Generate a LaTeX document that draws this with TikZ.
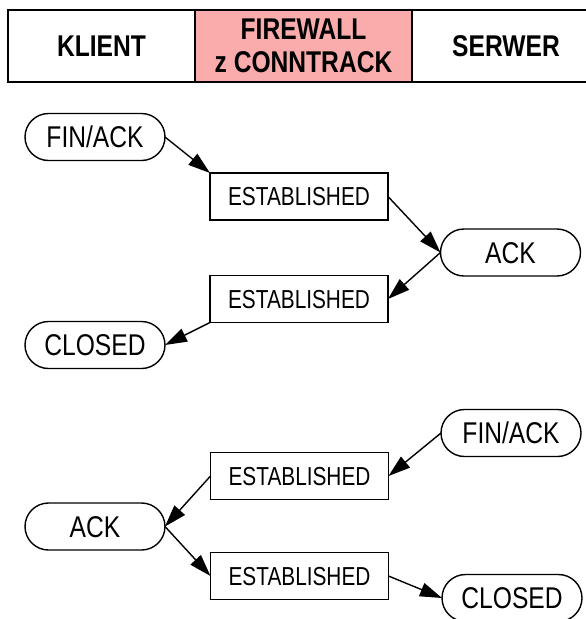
\documentclass[tikz,border=0pt]{standalone}
\usepackage{fontspec}
\setmainfont{Liberation Sans}[FakeStretch=0.82]
\newfontfamily\boxfont{Liberation Sans}[FakeStretch=0.80]
\usetikzlibrary{arrows.meta,shapes.misc}
\definecolor{fwpink}{RGB}{250,172,172}

\begin{document}
\begin{tikzpicture}[x=1pt,y=-1pt,
  every node/.style={inner sep=0pt, outer sep=0pt},
  pill/.style={rounded rectangle, draw, line width=1.4pt, minimum width=140pt,
    minimum height=47pt, font=\fontsize{30}{32}\selectfont, text height=21pt, text depth=0pt},
  stbox/.style={rectangle, draw, line width=1.4pt, minimum width=178pt,
    minimum height=47pt, font=\boxfont\fontsize{26}{28}\selectfont, text height=18.5pt, text depth=0pt},
  hcell/.style={rectangle, draw, line width=1.4pt, minimum height=72pt,
    font=\bfseries\fontsize{30}{33}\selectfont, align=center},
  flow/.style={-{Triangle[length=22pt,width=14pt]}, line width=1.4pt},
]
\useasboundingbox (0,0) rectangle (586,619);

% header: the three parties
\node[hcell, minimum width=187pt] (klient) at (101.5,46) {KLIENT};
\node[hcell, minimum width=217pt, fill=fwpink] (fw) at (303.5,46) {FIREWALL\\z CONNTRACK};
\node[hcell, minimum width=188pt] (serwer) at (506,46) {SERWER};

% first closing sequence (client starts)
\node[pill]  (f1) at (95,137)    {FIN/ACK};
\node[stbox] (e1) at (299,196.5) {ESTABLISHED};
\node[pill]  (a1) at (510.5,252.5) {ACK};
\node[stbox] (e2) at (299,299)   {ESTABLISHED};
\node[pill]  (c1) at (95,345)    {CLOSED};

% second closing sequence (server starts)
\node[pill]  (f2) at (511,433)   {FIN/ACK};
\node[stbox] (e3) at (299.5,476) {ESTABLISHED};
\node[pill]  (a2) at (95,526.5)  {ACK};
\node[stbox] (e4) at (299.5,576) {ESTABLISHED};
\node[pill]  (c2) at (512,598)   {CLOSED};

\draw[flow] (f1.east) -- (e1.north west);
\draw[flow] (e1.east) -- (a1.west);
\draw[flow] (a1.west) -- (e2.east);
\draw[flow] (e2.south west) -- (c1.east);

\draw[flow] (f2.west) -- (e3.east);
\draw[flow] (e3.west) -- (a2.east);
\draw[flow] (a2.east) -- (e4.west);
\draw[flow] (e4.east) -- (c2.west);
\end{tikzpicture}
\end{document}
